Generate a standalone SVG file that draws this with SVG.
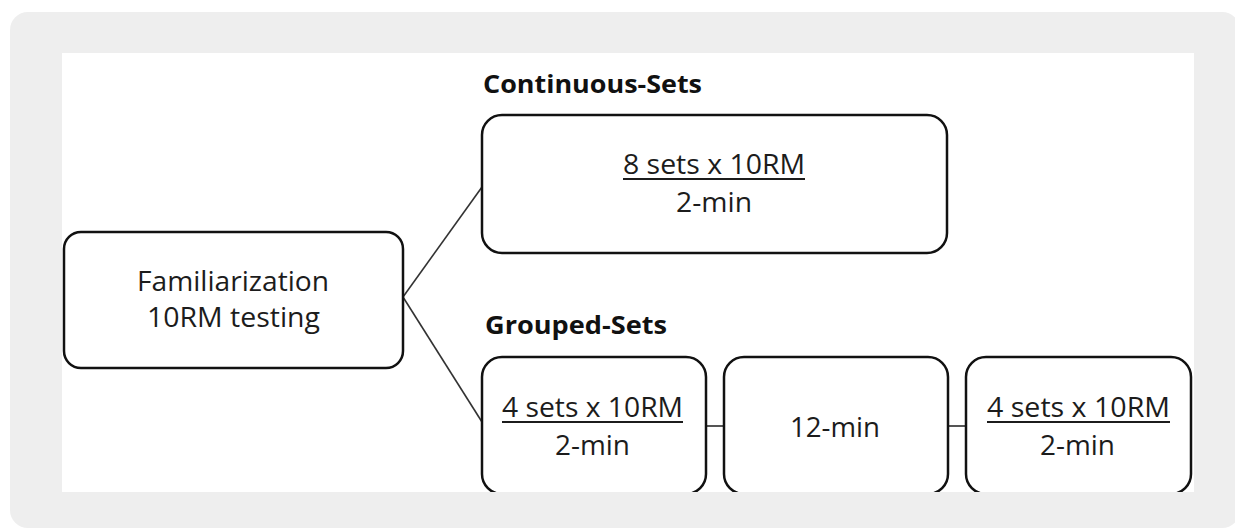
<svg xmlns="http://www.w3.org/2000/svg" width="1235" height="530" viewBox="0 0 1235 530">
<style>
.box{fill:#ffffff;stroke:#111111;stroke-width:2.5}
.t{font-family:"Open Sans","Noto Sans",sans-serif;font-size:26.5px;fill:#1c1c1c}
.h{font-family:"Open Sans","Noto Sans",sans-serif;font-size:25.5px;font-weight:bold;fill:#111111}
.ul{stroke:#1c1c1c;stroke-width:2}
.con{stroke:#333333;stroke-width:1.6;fill:none}
.con2{stroke:#555555;stroke-width:2;fill:none}
</style>
<defs>
<clipPath id="clipWhite"><rect x="62" y="53" width="1132" height="439"/></clipPath>
</defs>
<rect x="10" y="12" width="1230" height="516" rx="18" fill="#eeeeee"/>
<rect x="62" y="53" width="1132" height="439" fill="#ffffff"/>
<g clip-path="url(#clipWhite)">
<g id="connectors">
<line class="con" x1="403" y1="297" x2="482" y2="187"/>
<line class="con" x1="403" y1="297" x2="482" y2="422"/>
<line class="con2" x1="706" y1="426" x2="724" y2="426"/>
<line class="con2" x1="948" y1="426" x2="966" y2="426"/>
</g>
<g id="label-continuous">
<text class="h" x="483" y="93" textLength="219" lengthAdjust="spacingAndGlyphs">Continuous-Sets</text>
</g>
<g id="label-grouped">
<text class="h" x="485" y="334" textLength="182" lengthAdjust="spacingAndGlyphs">Grouped-Sets</text>
</g>
<g id="familiarization">
<rect class="box" x="64" y="232" width="339" height="136" rx="17"/>
<text class="t" x="137" y="291" textLength="192" lengthAdjust="spacingAndGlyphs">Familiarization</text>
<text class="t" x="147" y="327" textLength="173" lengthAdjust="spacingAndGlyphs">10RM testing</text>
</g>
<g id="continuous">
<rect class="box" x="482" y="115" width="465" height="138" rx="20"/>
<text class="t" x="623" y="174" textLength="182" lengthAdjust="spacingAndGlyphs">8 sets x 10RM</text>
<line class="ul" x1="623" y1="179" x2="805" y2="179"/>
<text class="t" x="676" y="212" textLength="76" lengthAdjust="spacingAndGlyphs">2-min</text>
</g>
<g id="grouped-1">
<rect class="box" x="482" y="357" width="224" height="137" rx="20"/>
<text class="t" x="502" y="417" textLength="181" lengthAdjust="spacingAndGlyphs">4 sets x 10RM</text>
<line class="ul" x1="502" y1="422" x2="683" y2="422"/>
<text class="t" x="555" y="455" textLength="75" lengthAdjust="spacingAndGlyphs">2-min</text>
</g>
<g id="grouped-rest">
<rect class="box" x="724" y="357" width="224" height="137" rx="20"/>
<text class="t" x="790" y="437" textLength="90" lengthAdjust="spacingAndGlyphs">12-min</text>
</g>
<g id="grouped-2">
<rect class="box" x="966" y="357" width="225" height="137" rx="20"/>
<text class="t" x="987" y="417" textLength="183" lengthAdjust="spacingAndGlyphs">4 sets x 10RM</text>
<line class="ul" x1="987" y1="422" x2="1170" y2="422"/>
<text class="t" x="1040" y="455" textLength="75" lengthAdjust="spacingAndGlyphs">2-min</text>
</g>
</g>
</svg>
